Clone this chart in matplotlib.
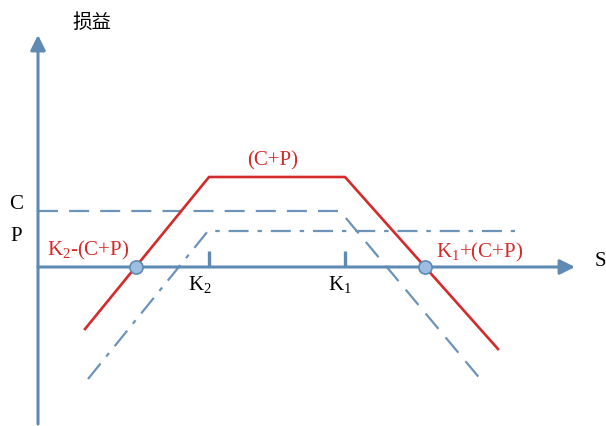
import matplotlib
matplotlib.use('Agg')
import matplotlib.pyplot as plt

plt.rcParams['font.family'] = ['Liberation Serif', 'Noto Sans CJK SC', 'DejaVu Sans']
plt.rcParams['mathtext.default'] = 'regular'

AXIS_BLUE = '#5f8ab3'
LINE_BLUE = '#6d93b8'
RED = '#d42a2a'

# strikes and premium levels (chart units, origin at the axes crossing)
k2 = 171
k1 = 307
c_level = 56
p_level = 36
cp_total = 90

# combined payoff (red)
combo_x = [47, k2, k1, 460]
combo_y = [-62, cp_total, cp_total, -82]
# short call (dashed)
call_x = [0, 302, 444]
call_y = [c_level, c_level, -114]
# short put (dash-dot)
put_x = [50, 170, 477]
put_y = [-112, p_level, p_level]
# breakeven points
be_x = [98, 387]
be_y = [0, 0]

fig = plt.figure(figsize=(6.06, 4.27), dpi=100)
ax = fig.add_axes([0, 0, 1, 1])
ax.set_xlim(-38, 568)
ax.set_ylim(-159, 268)
ax.axis('off')

# axes with arrows
ax.annotate('', xy=(0, 232), xytext=(0, -157),
            arrowprops=dict(arrowstyle='-|>,head_length=0.9,head_width=0.45',
                            color=AXIS_BLUE, lw=2.2, shrinkA=0, shrinkB=0))
ax.annotate('', xy=(537, 0), xytext=(0, 0),
            arrowprops=dict(arrowstyle='-|>,head_length=0.9,head_width=0.45',
                            color=AXIS_BLUE, lw=2.2, shrinkA=0, shrinkB=0))

# strike ticks
for k in [k2, k1]:
    ax.plot([k, k], [0, 16], color=AXIS_BLUE, lw=2.4, solid_capstyle='butt')

line, = ax.plot(call_x, call_y, color=LINE_BLUE, lw=1.6)
line.set_dashes((9, 5))
line, = ax.plot(put_x, put_y, color=LINE_BLUE, lw=1.6)
line.set_dashes((9, 4, 2, 4))
ax.plot(combo_x, combo_y, color=RED, lw=1.9)

ax.scatter(be_x, be_y, s=90, color='#9dbde3', edgecolor=AXIS_BLUE, lw=1.2, zorder=5)

# labels
ax.text(54, 246, '损益', fontsize=14, family=['Noto Sans CJK SC'], ha='center', va='center')
ax.text(562, 6, 'S', fontsize=15, ha='center', va='center')
ax.text(-22, 63, 'C', fontsize=15, ha='center', va='center')
ax.text(-22, 31, 'P', fontsize=15, ha='center', va='center')
ax.text(k2 - 9, -17, 'K$_2$', fontsize=15, ha='center', va='center')
ax.text(k1 - 5, -17, 'K$_1$', fontsize=15, ha='center', va='center')
ax.text(235, 107, '(C+P)', fontsize=15, color=RED, ha='center', va='center')
ax.text(50, 18, 'K$_2$-(C+P)', fontsize=15, color=RED, ha='center', va='center')
ax.text(442, 16, 'K$_1$+(C+P)', fontsize=15, color=RED, ha='center', va='center')

fig.savefig('out.png', dpi=100)
